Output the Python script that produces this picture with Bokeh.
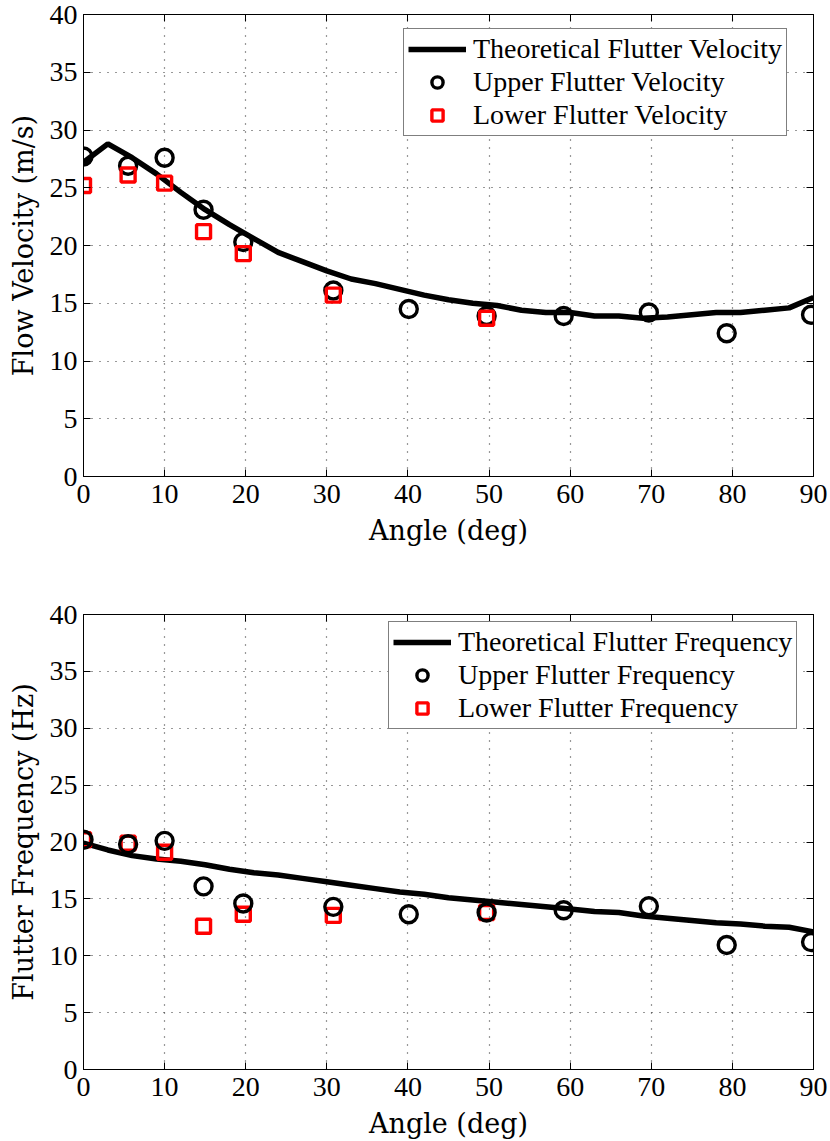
from bokeh.plotting import figure
from bokeh.models import (Range1d, FixedTicker, LinearAxis, Legend, LegendItem,
                          ColumnDataSource, CustomJSTickFormatter)
from bokeh.layouts import column
from bokeh.embed import file_html
from bokeh.resources import INLINE

# ---------------- data ----------------
theory_angle = [0, 3, 6, 9, 12, 15, 18, 21, 24, 27, 30, 33, 36, 39, 42, 45, 48,
                51, 54, 57, 60, 63, 66, 69, 72, 75, 78, 81, 84, 87, 90]
theory_velocity = [27.2, 28.8, 27.6, 26.2, 24.6, 23.1, 21.8, 20.6, 19.4, 18.6, 17.8,
                   17.1, 16.7, 16.2, 15.7, 15.3, 15.0, 14.8, 14.4, 14.2, 14.2, 13.9,
                   13.9, 13.7, 13.8, 14.0, 14.2, 14.2, 14.4, 14.6, 15.5]
theory_frequency = [19.9, 19.3, 18.8, 18.5, 18.3, 18.0, 17.6, 17.3, 17.1, 16.8, 16.5,
                    16.2, 15.9, 15.6, 15.4, 15.1, 14.9, 14.7, 14.5, 14.3, 14.1, 13.9,
                    13.8, 13.5, 13.3, 13.1, 12.9, 12.8, 12.6, 12.5, 12.1]

upper_angle = [0, 5.5, 10, 14.8, 19.7, 30.8, 40.1, 49.7, 59.2, 69.7, 79.3, 89.7]
upper_velocity = [27.7, 26.9, 27.6, 23.1, 20.3, 16.1, 14.5, 13.9, 13.9, 14.2, 12.4, 14.0]
upper_frequency = [20.2, 19.8, 20.1, 16.1, 14.6, 14.3, 13.65, 13.8, 14.0, 14.35, 10.95, 11.2]

lower_angle = [0, 5.5, 10, 14.8, 19.7, 30.8, 49.7]
lower_velocity = [25.2, 26.1, 25.4, 21.2, 19.3, 15.7, 13.7]
lower_frequency = [20.2, 19.9, 19.1, 12.6, 13.65, 13.55, 13.8]

x_ticks = [0, 10, 20, 30, 40, 50, 60, 70, 80, 90]
y_ticks = [0, 5, 10, 15, 20, 25, 30, 35, 40]

TICK_FONT = "Liberation Serif"
LABEL_FONT = "DejaVu Serif"


def make_plot(y_label, theory_y, upper_y, lower_y, names, squares_on_top,
              frame_h, border_top, border_bottom, legend_loc):
    p = figure(output_backend="svg", toolbar_location=None,
               frame_width=730, frame_height=frame_h,
               min_border_left=83, min_border_right=17,
               min_border_top=border_top, min_border_bottom=border_bottom,
               x_range=Range1d(0, 90), y_range=Range1d(0, 40))
    p.background_fill_color = "white"
    p.border_fill_color = "white"
    p.outline_line_color = "black"
    p.outline_line_width = 1

    p.xaxis.ticker = FixedTicker(ticks=x_ticks)
    p.yaxis.ticker = FixedTicker(ticks=y_ticks)
    for ax in (p.xaxis[0], p.yaxis[0]):
        ax.major_tick_in = 7
        ax.major_tick_out = 0
        ax.minor_tick_line_color = None
        ax.axis_line_color = "black"
        ax.major_tick_line_color = "black"
        ax.major_label_text_font = TICK_FONT
        ax.major_label_text_font_size = "28px"
        ax.major_label_text_color = "black"
        ax.axis_label_text_font = LABEL_FONT
        ax.axis_label_text_font_size = "27px"
        ax.axis_label_text_font_style = "normal"
        ax.axis_label_text_color = "black"
    p.xaxis.axis_label = "Angle (deg)"
    p.yaxis.axis_label = y_label
    p.xaxis.major_label_standoff = 8
    p.xaxis.axis_label_standoff = 9
    p.yaxis.major_label_standoff = 6
    p.yaxis.axis_label_standoff = 8

    blank = CustomJSTickFormatter(code="return ''")
    top_ax = LinearAxis(ticker=FixedTicker(ticks=x_ticks), formatter=blank,
                        major_tick_in=7, major_tick_out=0, major_label_standoff=0,
                        minor_tick_line_color=None, axis_line_color="black")
    right_ax = LinearAxis(ticker=FixedTicker(ticks=y_ticks), formatter=blank,
                          major_tick_in=7, major_tick_out=0, major_label_standoff=0,
                          minor_tick_line_color=None, axis_line_color="black")
    p.add_layout(top_ax, "above")
    p.add_layout(right_ax, "right")

    p.xgrid.ticker = FixedTicker(ticks=x_ticks)
    p.ygrid.ticker = FixedTicker(ticks=y_ticks)
    for g in (p.xgrid[0], p.ygrid[0]):
        g.grid_line_color = "#333333"
        g.grid_line_dash = "1 7"
        g.grid_line_width = 1.2

    src_t = ColumnDataSource(dict(x=theory_angle, y=theory_y))
    src_u = ColumnDataSource(dict(x=upper_angle, y=upper_y))
    src_l = ColumnDataSource(dict(x=lower_angle, y=lower_y))

    r_line = p.line("x", "y", source=src_t, line_color="black", line_width=5.5)

    def add_circles():
        return p.scatter("x", "y", source=src_u, marker="circle", size=17,
                         fill_color=None, line_color="black", line_width=3.4)

    def add_squares():
        return p.scatter("x", "y", source=src_l, marker="square", size=14,
                         fill_color=None, line_color="red", line_width=3.4)

    if squares_on_top:
        r_c = add_circles()
        r_s = add_squares()
    else:
        r_s = add_squares()
        r_c = add_circles()

    legend = Legend(items=[LegendItem(label=names[0], renderers=[r_line]),
                           LegendItem(label=names[1], renderers=[r_c]),
                           LegendItem(label=names[2], renderers=[r_s])],
                    location=legend_loc)
    legend.label_text_font = TICK_FONT
    legend.label_text_font_size = "28px"
    legend.label_text_color = "black"
    legend.glyph_width = 58
    legend.glyph_height = 28
    legend.label_height = 28
    legend.label_standoff = 7
    legend.spacing = 1
    legend.padding = 4
    legend.margin = 0
    legend.border_line_color = "black"
    legend.border_line_width = 1
    legend.background_fill_color = "white"
    legend.background_fill_alpha = 1.0
    p.add_layout(legend)
    return p


p1 = make_plot("Flow Velocity (m/s)", theory_velocity, upper_velocity, lower_velocity,
               ["Theoretical Flutter Velocity", "Upper Flutter Velocity",
                "Lower Flutter Velocity"],
               True, 462, 14, 84, (320, 340))
p2 = make_plot("Flutter Frequency (Hz)", theory_frequency, upper_frequency, lower_frequency,
               ["Theoretical Flutter Frequency", "Upper Flutter Frequency",
                "Lower Flutter Frequency"],
               False, 455, 54, 72, (305, 340))

layout = column(p1, p2, spacing=0)
open("out.html", "w").write(file_html(layout, INLINE))
